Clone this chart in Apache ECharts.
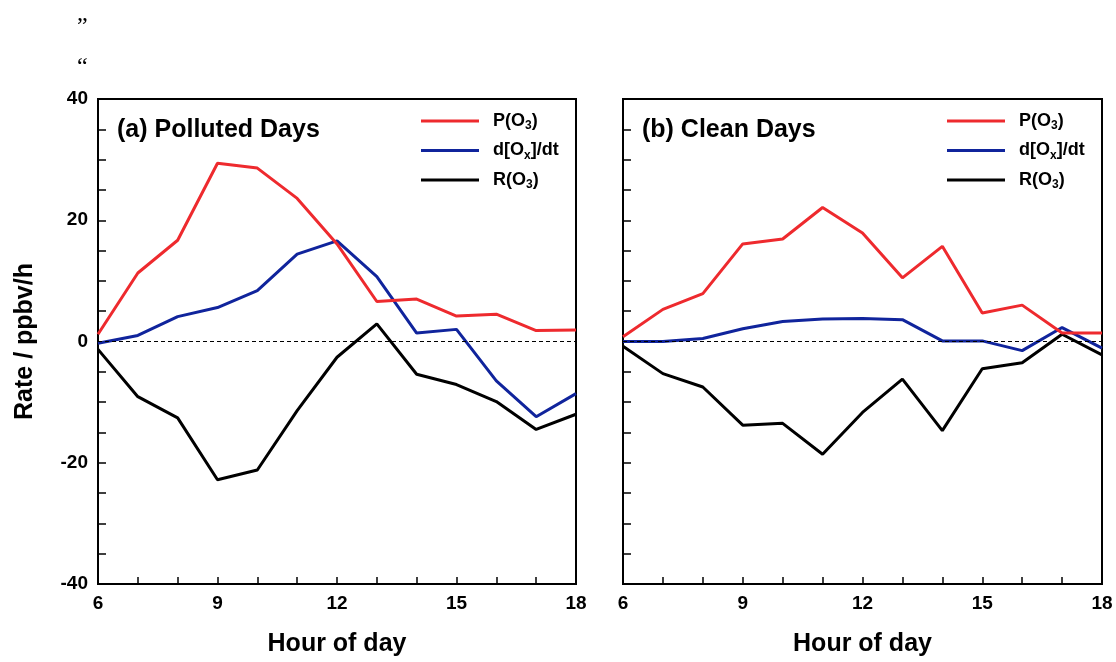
<!DOCTYPE html>
<html><head><meta charset="utf-8">
<script src="https://cdn.jsdelivr.net/npm/echarts@6/dist/echarts.min.js"></script>
<style>html,body{margin:0;padding:0;background:#fff}#c{width:1116px;height:662px}</style>
</head><body><div id="c"></div>
<script>
const hours = [6,7,8,9,10,11,12,13,14,15,16,17,18];
const seriesNames = ['P(O3)', 'd[Ox]/dt', 'R(O3)'];
const panelTitles = ['(a) Polluted Days', '(b) Clean Days'];
const yTickLabels = [-40, -20, 0, 20, 40];
const xTickLabels = [6, 9, 12, 15, 18];
// Polluted days
const pollutedP = [1.2, 11.3, 16.7, 29.4, 28.6, 23.6, 16.1, 6.6, 7.0, 4.2, 4.5, 1.8, 1.9];
const pollutedD = [-0.3, 1.0, 4.1, 5.6, 8.4, 14.4, 16.6, 10.7, 1.4, 2.0, -6.5, -12.4, -8.6];
const pollutedR = [-1.3, -9.1, -12.6, -22.8, -21.2, -11.4, -2.6, 2.9, -5.4, -7.1, -9.9, -14.5, -12.0];
// Clean days
const cleanP = [0.8, 5.3, 7.9, 16.1, 16.9, 22.1, 17.9, 10.5, 15.7, 4.7, 6.0, 1.4, 1.4];
const cleanD = [0.0, 0.0, 0.5, 2.1, 3.3, 3.7, 3.8, 3.6, 0.1, 0.1, -1.5, 2.3, -1.1];
const cleanR = [-0.8, -5.3, -7.5, -13.8, -13.5, -18.6, -11.7, -6.2, -14.7, -4.5, -3.5, 1.2, -2.2];

const colors = ['#ee2a2e', '#10249c', '#000000'];
const FONT = 'Liberation Sans';
const pair = arr => hours.map((h, i) => [h, arr[i]]);

const grids = [
  {left: 98, top: 99, width: 478, height: 489},
  {left: 623, top: 99, width: 479, height: 489}
];
const panels = [[pollutedP, pollutedD, pollutedR], [cleanP, cleanD, cleanR]];

const xAxes = grids.map((g, i) => ({
  type: 'value', gridIndex: i, min: 6, max: 18, interval: 1,
  name: 'Hour of day', nameLocation: 'middle', nameGap: 48,
  nameTextStyle: {fontFamily: FONT, fontWeight: 'bold', fontSize: 25, color: '#000'},
  axisLine: {show: true, onZero: false, lineStyle: {color: '#000', width: 2}},
  axisTick: {show: true, inside: true, length: 7, lineStyle: {color: '#000', width: 1.5}},
  axisLabel: {fontFamily: FONT, fontWeight: 'bold', fontSize: 19, color: '#000', margin: 10,
    formatter: v => xTickLabels.includes(v) ? String(v) : ''},
  splitLine: {show: false}
}));
const yAxes = grids.map((g, i) => ({
  type: 'value', gridIndex: i, min: -40, max: 40, interval: 5,
  name: i === 0 ? 'Rate / ppbv/h' : '', nameLocation: 'middle', nameGap: 60,
  nameTextStyle: {fontFamily: FONT, fontWeight: 'bold', fontSize: 25, color: '#000'},
  axisLine: {show: true, lineStyle: {color: '#000', width: 2}},
  axisTick: {show: true, inside: true, length: 8, lineStyle: {color: '#000', width: 1.5}},
  axisLabel: {show: i === 0, fontFamily: FONT, fontWeight: 'bold', fontSize: 19, color: '#000', margin: 10,
    formatter: v => yTickLabels.includes(v) ? String(v) : ''},
  splitLine: {show: false}
}));

const series = [];
panels.forEach((p, gi) => {
  p.forEach((arr, si) => {
    const s = {
      type: 'line', name: seriesNames[si], xAxisIndex: gi, yAxisIndex: gi,
      data: pair(arr), symbol: 'none', smooth: false,
      lineStyle: {color: colors[si], width: 3}, itemStyle: {color: colors[si]},
      z: 3 - si + 2
    };
    if (si === 0) {
      s.markLine = {silent: true, symbol: 'none', label: {show: false},
        lineStyle: {type: [4, 3], color: '#000', width: 1}, data: [{yAxis: 0}]};
    }
    series.push(s);
  });
});

const legendFmt = name => name.replace('O3', 'O{s|3}').replace('Ox', 'O{s|x}');
const legendRich = {s: {fontFamily: FONT, fontWeight: 'bold', fontSize: 12, color: '#000', padding: [10, 0, 0, 0]}};
const legends = [421, 947].map(l => ({
  left: l, top: 112, padding: 0, orient: 'vertical', itemGap: 9.5, itemWidth: 58, itemHeight: 3,
  icon: 'rect', selectedMode: false, data: seriesNames,
  formatter: legendFmt,
  textStyle: {fontFamily: FONT, fontWeight: 'bold', fontSize: 18, color: '#000', rich: legendRich, padding: [0, 0, 0, 9]}
}));

const chart = echarts.init(document.getElementById('c'), null, {renderer: 'canvas'});
chart.setOption({
  backgroundColor: '#fff',
  animation: false,
  grid: grids.map(g => Object.assign({show: true, borderColor: '#000', borderWidth: 2, backgroundColor: 'transparent'}, g)),
  xAxis: xAxes, yAxis: yAxes,
  title: panelTitles.map((t, i) => ({text: t, left: [117, 642][i], top: 118, padding: 0,
    textStyle: {fontFamily: FONT, fontWeight: 'bold', fontSize: 25, color: '#000'}})),
  legend: legends,
  graphic: [
    {type: 'text', left: 77, top: 15, style: {text: '\u201D', font: '24px "Liberation Serif"', fill: '#000'}},
    {type: 'text', left: 77, top: 56, style: {text: '\u201C', font: '24px "Liberation Serif"', fill: '#000'}}
  ],
  series: series
});
</script></body></html>
